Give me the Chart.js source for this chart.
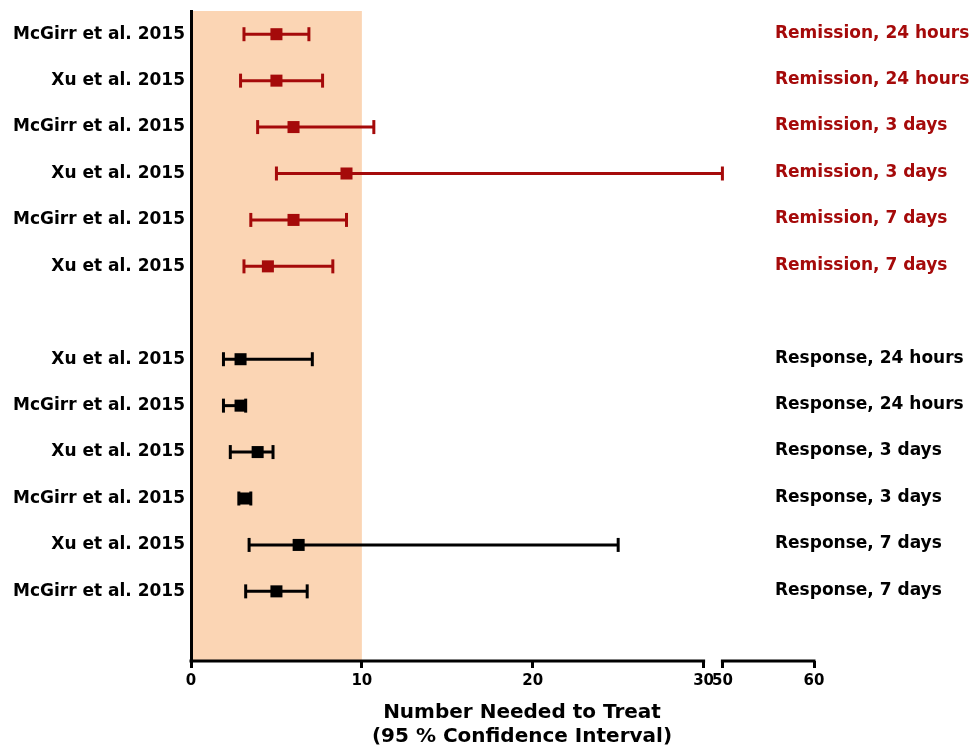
<!DOCTYPE html>
<html>
<head>
<meta charset="utf-8">
<title>Number Needed to Treat</title>
<script src="https://cdn.jsdelivr.net/npm/chart.js@4.4.0/dist/chart.umd.min.js"></script>
<style>
  body { margin: 0; background: #fff; }
  #wrap { width: 975px; height: 746px; }
</style>
</head>
<body>
<div id="wrap"><canvas id="nntChart" width="975" height="746"></canvas></div>
<script>
// rows top to bottom
const studies = ['McGirr et al. 2015', 'Xu et al. 2015', 'McGirr et al. 2015', 'Xu et al. 2015',
  'McGirr et al. 2015', 'Xu et al. 2015', 'Xu et al. 2015', 'McGirr et al. 2015',
  'Xu et al. 2015', 'McGirr et al. 2015', 'Xu et al. 2015', 'McGirr et al. 2015'];
const outcomes = ['Remission, 24 hours', 'Remission, 24 hours', 'Remission, 3 days', 'Remission, 3 days',
  'Remission, 7 days', 'Remission, 7 days', 'Response, 24 hours', 'Response, 24 hours',
  'Response, 3 days', 'Response, 3 days', 'Response, 7 days', 'Response, 7 days'];
const rowPositions = [0, 1, 2, 3, 4, 5, 7, 8, 9, 10, 11, 12];
const nnt     = [5.0, 5.0, 6.0, 9.1, 6.0, 4.5, 2.9, 2.9, 3.9, 3.1, 6.3, 5.0];
const ciLower = [3.1, 2.9, 3.9, 5.0, 3.5, 3.1, 1.9, 1.9, 2.3, 2.8, 3.4, 3.2];
const ciUpper = [6.9, 7.7, 10.7, 50, 9.1, 8.3, 7.1, 3.2, 4.8, 3.5, 25, 6.8];
const xTickValues = [0, 10, 20, 30, 50, 60];
const shadedRange = [0, 10];

const RED = '#a50a0a';
const BLACK = '#000000';
const FONT = 'DejaVu Sans';

// broken axis: 0-30 at full scale, then 50-60 compressed after a small gap
function toAxis(v) {
  return v <= 30 ? v : 31.1 + (v - 50) * 0.536;
}

function rowColor(i) {
  return outcomes[i].startsWith('Remission') ? RED : BLACK;
}

const datasets = [];
rowPositions.forEach(function(row, i) {
  datasets.push({
    type: 'scatter',
    showLine: true,
    data: [{ x: toAxis(ciLower[i]), y: row }, { x: toAxis(ciUpper[i]), y: row }],
    borderColor: rowColor(i),
    borderWidth: 3,
    pointStyle: 'line',
    pointRotation: 90,
    pointRadius: 7,
    pointBorderWidth: 3,
    pointBorderColor: rowColor(i),
    clip: false,
    order: 2
  });
});
datasets.push({
  type: 'scatter',
  data: rowPositions.map(function(row, i) { return { x: toAxis(nnt[i]), y: row }; }),
  pointStyle: 'rect',
  pointRadius: 8.5,
  pointBorderWidth: 0,
  pointBackgroundColor: rowPositions.map(function(r, i) { return rowColor(i); }),
  order: 1
});

const shadePlugin = {
  id: 'shade',
  beforeDraw(chart) {
    const { ctx, chartArea, scales } = chart;
    const x0 = scales.x.getPixelForValue(toAxis(shadedRange[0]));
    const x1 = scales.x.getPixelForValue(toAxis(shadedRange[1]));
    ctx.save();
    ctx.fillStyle = '#fbd5b4';
    ctx.fillRect(x0, chartArea.top, x1 - x0, chartArea.bottom - chartArea.top);
    ctx.restore();
  }
};

const brokenAxisPlugin = {
  id: 'brokenAxis',
  afterDraw(chart) {
    const { ctx, chartArea, scales } = chart;
    const x = scales.x;
    const y = chartArea.bottom;
    ctx.save();
    ctx.strokeStyle = BLACK;
    ctx.lineWidth = 3;
    ctx.beginPath();
    ctx.moveTo(x.getPixelForValue(toAxis(0)) - 1.5, y);
    ctx.lineTo(x.getPixelForValue(toAxis(30)) + 1.5, y);
    ctx.moveTo(x.getPixelForValue(toAxis(50)) - 1.5, y);
    ctx.lineTo(x.getPixelForValue(toAxis(60)) + 1.5, y);
    ctx.stroke();

    // outcome labels on the right
    ctx.font = 'bold 17px "' + FONT + '"';
    ctx.textAlign = 'left';
    ctx.textBaseline = 'middle';
    rowPositions.forEach(function(row, i) {
      ctx.fillStyle = rowColor(i);
      ctx.fillText(outcomes[i], 775, scales.y.getPixelForValue(row) - 1);
    });

    // axis title
    ctx.fillStyle = BLACK;
    ctx.font = 'bold 20px "' + FONT + '"';
    ctx.textAlign = 'center';
    ctx.fillText('Number Needed to Treat', 522, 713);
    ctx.fillText('(95 % Confidence Interval)', 522, 737);
    ctx.restore();
  }
};

new Chart(document.getElementById('nntChart'), {
  type: 'scatter',
  data: { datasets: datasets },
  plugins: [shadePlugin, brokenAxisPlugin],
  options: {
    responsive: false,
    animation: false,
    layout: { padding: { top: 11, right: 161, bottom: 0, left: 0 } },
    plugins: { legend: { display: false }, tooltip: { enabled: false } },
    scales: {
      x: {
        type: 'linear',
        min: 0,
        max: toAxis(60),
        afterBuildTicks(scale) {
          scale.ticks = xTickValues.map(function(v) { return { value: toAxis(v) }; });
        },
        afterFit(scale) {
          scale.height = 85;
          scale.paddingLeft = 0;
          scale.paddingRight = 0;
        },
        ticks: {
          autoSkip: false,
          maxRotation: 0,
          padding: 4,
          color: BLACK,
          font: { family: FONT, size: 15, weight: 'bold' },
          callback: function(value, index) { return String(xTickValues[index]); }
        },
        grid: {
          drawOnChartArea: false,
          drawTicks: true,
          tickLength: 7,
          tickWidth: 3,
          tickColor: BLACK
        },
        border: { display: false }
      },
      y: {
        type: 'linear',
        reverse: true,
        min: -0.5,
        max: 13.5,
        afterBuildTicks(scale) {
          scale.ticks = rowPositions.map(function(v) { return { value: v }; });
        },
        afterFit(scale) {
          scale.width = 191;
          scale.paddingTop = 0;
          scale.paddingBottom = 0;
        },
        ticks: {
          autoSkip: false,
          padding: 6,
          color: BLACK,
          font: { family: FONT, size: 17, weight: 'bold' },
          callback: function(value, index) { return studies[index]; }
        },
        grid: { display: false, drawTicks: false },
        border: { display: true, color: BLACK, width: 3 }
      }
    }
  }
});
</script>
</body>
</html>
